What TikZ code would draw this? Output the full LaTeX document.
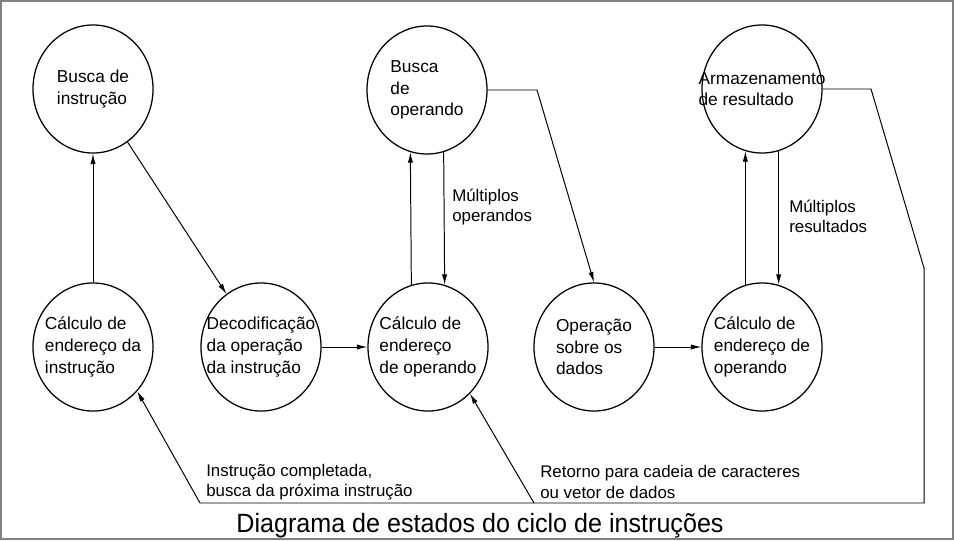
\documentclass[tikz,border=0pt]{standalone}
\usepackage{fontspec}
\setmainfont{Liberation Sans}
\newfontfamily\titlefont[FakeStretch=0.95]{Liberation Sans}
\usetikzlibrary{shapes.geometric,arrows.meta}
\begin{document}
\begin{tikzpicture}[x=0.025cm,y=-0.025cm,>={Latex[length=2.6mm,width=1.3mm]}]
      \useasboundingbox (0,0) rectangle (954,540);
      \draw[black!50,line width=0.05cm] (1,1) rectangle (953,539);
      \begin{scope}[every node/.style={ellipse,draw,line width=0.9pt,minimum width=3cm,minimum height=3.2cm,inner xsep=-16pt,inner ysep=0pt,align=left,font=\fontsize{12.3}{15.4}\selectfont}]
        \node (bi) at (93,89) {Busca de\\instrução};
        \node (bo) at (427,90) {Busca\\de\\operando};
        \node (arm) at (762,89) {Armazenamento\\de resultado};
        \node (ci) at (93,347) {Cálculo de\\endereço da\\instrução};
        \node (dec) at (261,347) {Decodificação\\da operação\\da instrução};
        \node (co1) at (428,347) {Cálculo de\\endereço\\de operando};
        \node (op) at (594,347) {Operação\\sobre os\\dados};
        \node (co2) at (762,347) {Cálculo de\\endereço de\\operando};
      \end{scope}
      \coordinate (k1) at (537,90);
      \coordinate (k2) at (871,89);
      \coordinate (k3) at (924,268);
      \coordinate (k4) at (924,503);
      \coordinate (k5) at (200,503);
      \coordinate (k6) at (534,503);
      \begin{scope}[every edge/.style={draw=black,line width=0.7pt,->}]
        \path (ci) edge (bi);
        \path (bi) edge (dec);
        \path (dec) edge (co1);
        \path (co1.105) edge (bo.255);
        \path (bo.285) edge (co1.75);
        \path (op) edge (co2);
        \path (co2.105) edge (arm.255);
        \path (arm.285) edge (co2.75);
      \end{scope}
      \begin{scope}[line width=0.7pt]
        \draw[->] (bo.east) -- (k1) -- (op.north);
        \draw[->] (arm.east) -- (k2) -- (k3) -- (k4) -- (k5) -- (ci.-45);
        \draw[->] (k6) -- (co1.-48);
      \end{scope}
      \begin{scope}[every node/.style={anchor=west,inner sep=0pt,align=left,font=\fontsize{12}{14.4}\selectfont}]
        \node (lmo) at (452,207) {Múltiplos\\operandos};
        \node (lmr) at (789,216) {Múltiplos\\resultados};
        \node (lic) at (206,482) {Instrução completada,\\busca da próxima instrução};
        \node (lrt) at (540,482) {Retorno para cadeia de caracteres\\ou vetor de dados};
      \end{scope}
      \node[anchor=base,inner sep=0pt,font=\titlefont\fontsize{18.8}{22}\selectfont] (title) at (480,532) {Diagrama de estados do ciclo de instruções};
    \end{tikzpicture}
\end{document}
